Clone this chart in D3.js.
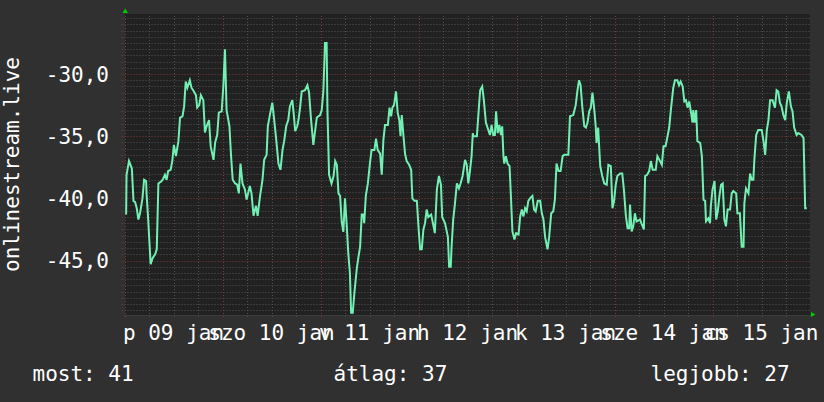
<!DOCTYPE html>
<html><head><meta charset="utf-8">
<script src="https://cdn.jsdelivr.net/npm/d3@7"></script>
<style>
html,body{margin:0;padding:0;background:#303030;}
svg{display:block;}
text{font-family:"DejaVu Sans Mono",monospace;font-size:21px;fill:#ffffff;}
</style></head><body>
<svg id="chart" width="824" height="402"></svg>
<script>
// hours since Fri 09 Jan 00:00 and the value read at that time
const hours = [0.4,0.5,1.1,1.8,2.2,2.6,3.0,3.4,3.8,4.4,4.8,5.3,5.4,5.8,6.4,6.9,7.5,7.9,8.3,9.1,9.5,9.9,10.3,10.7,11.3,11.7,12.1,12.6,13.2,13.6,14.2,14.6,15.0,15.4,16.0,16.4,17.0,17.5,17.8,18.3,18.7,19.3,19.7,20.1,20.7,21.1,21.8,22.2,22.7,23.1,23.8,24.2,24.6,25.0,25.7,26.1,26.5,27.1,27.6,28.0,28.4,28.9,29.5,29.9,30.7,31.1,31.6,32.2,32.6,33.2,33.8,34.2,34.8,35.1,35.6,36.2,36.6,37.1,37.7,38.2,38.7,39.1,39.6,40.1,40.5,41.1,41.5,41.8,42.3,
42.6,43.0,43.4,44.2,44.8,45.2,45.7,46.25,46.7,47.1,47.9,48.3,48.7,49.1,49.5,49.7,50.1,50.7,51.2,51.6,52.0,52.4,52.8,53.2,53.6,54.0,54.4,54.8,55.2,55.5,55.9,56.3,56.9,57.3,57.7,58.1,58.5,58.7,59.1,59.6,60.1,60.5,61.2,61.6,62.0,62.6,63.0,63.4,63.8,64.5,64.9,65.3,65.6,66.0,66.5,66.9,67.3,67.6,67.9,68.3,68.7,69.1,69.7,70.2,70.5,71.0,71.6,72.0,72.4,72.8,73.2,73.6,74.0,74.4,75.1,75.6,76.0,76.5,77.0,77.5,77.8,78.5,79.2,79.5,79.9,80.1,80.5,80.9,81.4,81.9,82.3,82.8,83.4,83.8,84.2,84.6,85.0,85.3,
85.4,86.3,86.7,87.1,87.6,88.0,88.5,89.1,89.5,89.9,90.3,90.7,91.0,91.4,91.8,92.2,92.5,92.8,93.0,93.4,93.8,94.3,94.6,95.0,95.5,95.9,96.5,96.9,97.3,97.7,98.1,98.5,98.9,99.3,99.9,100.3,100.7,101.2,101.8,102.2,102.6,103.0,103.6,104.0,104.5,105.0,105.4,105.8,106.3,106.8,107.3,107.7,108.7,109.1,109.9,110.5,110.9,111.3,111.7,112.1,112.6,113.0,113.4,113.8,114.2,114.6,115.0,115.4,115.6,116.0,116.5,117.0,117.5,118.1,118.5,119.1,119.5,119.9,120.3,120.7,121.4,121.9,122.3,122.8,123.2,123.6,123.8,124.2,124.6,125.0,125.4,
126.25,126.7,127.2,127.5,128.0,128.5,128.9,129.35,130.1,130.5,131.0,131.6,132.0,132.5,132.9,133.4,133.8,134.4,134.8,135.4,135.8,136.2,136.7,137.1,137.5,137.9,138.3,138.7,139.1,139.3,139.6,140.0,140.3,141.0,141.4,141.8,142.2,142.4,143.0,143.4,143.6,144.0,144.5,144.9,145.3,145.7,146.1,146.5,146.9,147.3,147.7,148.3,148.7,149.1,149.8,150.1,150.7,151.15,151.6,151.8,152.2,152.8,153.2,153.6,154.0,154.25,154.7,155.2,156.05,156.5,156.9,157.3,157.7,158.1,158.7,159.3,159.7,160.1,160.5,160.9,161.35,161.8,162.2,162.7,163.2,163.6,164.0,164.6,165.0,165.8,166.3,166.7,167.1];
const values = [-41.3,-38.1,-37.0,-37.6,-40.2,-40.3,-40.8,-41.7,-41.2,-40.0,-38.5,-38.6,-39.6,-41.7,-45.3,-44.8,-44.5,-44.1,-38.8,-38.6,-38.4,-38.1,-38.5,-37.8,-37.7,-37.0,-35.7,-36.6,-35.4,-33.5,-33.4,-32.6,-30.6,-31.1,-30.5,-31.1,-31.4,-31.7,-32.7,-32.5,-31.7,-32.1,-34.7,-34.2,-33.7,-35.8,-36.9,-35.5,-34.9,-33.1,-33.0,-31.0,-28.0,-32.9,-34.2,-36.6,-38.5,-38.8,-38.9,-39.6,-37.2,-38.8,-39.3,-40.1,-39.0,-39.6,-41.4,-40.6,-41.4,-39.8,-38.5,-36.9,-36.5,-34.2,-33.3,-32.3,-33.5,-35.1,-37.2,-37.7,-36.1,-35.4,-34.2,-33.7,-32.6,-32.1,-33.4,-34.6,-34.2,
-33.7,-32.7,-31.4,-31.3,-30.9,-31.5,-33.7,-35.7,-34.5,-33.5,-33.3,-32.9,-31.4,-27.5,-27.5,-32.9,-38.1,-38.8,-38.2,-37.0,-37.3,-39.6,-39.8,-41.9,-42.7,-40.0,-42.0,-44.4,-46.0,-49.2,-49.2,-47.6,-45.6,-44.7,-43.9,-41.3,-41.3,-42.0,-39.8,-38.8,-37.2,-36.1,-36.1,-35.2,-36.1,-36.4,-38.1,-35.3,-34.1,-34.1,-32.7,-33.4,-32.7,-32.5,-31.4,-33.1,-33.7,-35.0,-33.3,-34.9,-36.4,-37.0,-37.3,-37.7,-40.0,-40.2,-40.2,-42.3,-44.1,-44.1,-42.5,-42.0,-40.9,-41.5,-41.3,-42.1,-42.8,-39.3,-38.2,-38.9,-41.5,-42.0,-43.1,-45.5,-45.5,-43.9,-41.7,-40.5,-38.8,-39.2,-38.8,-38.2,-36.9,-37.3,-38.8,-37.8,-36.6,-34.75,
-35.0,-35.0,-33.1,-31.3,-31.0,-32.1,-33.9,-34.5,-34.9,-34.1,-34.9,-34.9,-33.0,-34.75,-34.1,-34.9,-34.2,-36.6,-37.2,-36.6,-37.2,-37.4,-39.6,-42.65,-43.3,-42.8,-42.9,-41.45,-40.9,-41.45,-40.8,-41.05,-40.2,-40.0,-39.8,-40.9,-41.05,-40.2,-40.2,-41.2,-41.7,-43.1,-44.1,-43.1,-41.2,-41.05,-40.1,-37.2,-37.8,-37.8,-36.6,-36.5,-36.5,-33.4,-33.3,-32.5,-31.4,-30.5,-30.9,-32.6,-34.2,-34.3,-33.9,-33.0,-32.7,-31.5,-32.7,-34.2,-35.55,-34.3,-37.4,-38.2,-38.8,-38.9,-37.3,-37.4,-40.8,-40.2,-38.9,-38.2,-38.0,-38.0,-39.3,-41.45,-42.4,-42.4,-40.5,-42.65,-42.25,-41.2,-41.85,
-41.7,-42.1,-42.5,-38.2,-38.1,-37.8,-37.0,-37.7,-37.7,-36.6,-36.9,-37.3,-35.8,-35.8,-35.15,-34.3,-32.9,-31.1,-30.5,-30.5,-30.9,-30.6,-31.0,-32.2,-32.1,-32.7,-32.2,-33.0,-33.9,-32.9,-33.9,-32.9,-35.4,-35.55,-36.6,-40.1,-40.2,-41.85,-41.6,-42.0,-40.6,-39.3,-38.6,-41.7,-41.05,-39.8,-38.9,-38.8,-41.7,-42.25,-40.9,-40.9,-39.6,-39.4,-39.6,-41.2,-41.2,-43.9,-43.9,-40.4,-39.2,-39.6,-38.0,-38.5,-38.5,-36.9,-34.9,-34.5,-34.5,-35.4,-36.5,-34.5,-33.7,-32.1,-32.1,-32.7,-31.3,-31.4,-32.3,-32.6,-33.3,-33.7,-32.3,-31.4,-32.6,-33.0,-34.3,-34.9,-34.75,-34.9,-35.15,-40.8,-40.8];
const dayLabels = ["p 09 jan","szo 10 jan","v 11 jan","h 12 jan","k 13 jan","sze 14 jan","cs 15 jan"];
const yTickValues = [-45,-40,-35,-30];
const yTickLabels = ["-45,0","-40,0","-35,0","-30,0"];
const legendLabels = ["most: 41","átlag: 37","legjobb: 27"];
const yTitle = "onlinestream.live";
const startDate = new Date(2026,0,9,0,0);
const endDate = new Date(2026,0,16,0,0);
const yDomain = [-49.3,-25.25];

const svg = d3.select("#chart");
const P = {left:123.5, right:810, top:14, bottom:315};
const x = d3.scaleTime().domain([startDate,endDate]).range([124.5,810.5]);
const y = d3.scaleLinear().domain(yDomain).range([314,15]);

svg.append("rect").attr("width",824).attr("height",402).attr("fill","#303030");
svg.append("rect").attr("x",P.left).attr("y",P.top).attr("width",P.right-P.left).attr("height",P.bottom-P.top).attr("fill","#212121");

const crisp = v => Math.round(v)+0.5;
// horizontal grid
const hMinor = d3.range(-49,-25.2,0.5).filter(v=>v%5!==0);
const g = svg.append("g");
g.selectAll(".hmin").data(hMinor).join("line")
  .attr("x1",P.left-2).attr("x2",P.right).attr("y1",d=>crisp(y(d))).attr("y2",d=>crisp(y(d)))
  .attr("stroke","#525252").attr("stroke-dasharray","1,2");
g.selectAll(".hmaj").data(yTickValues).join("line")
  .attr("x1",P.left-2).attr("x2",P.right).attr("y1",d=>crisp(y(d))).attr("y2",d=>crisp(y(d)))
  .attr("stroke","#803a3a").attr("stroke-dasharray","1,2");
// vertical grid
const vTimes = d3.timeHour.every(6).range(startDate,endDate);
g.selectAll(".v").data(vTimes).join("line")
  .attr("x1",d=>crisp(x(d))).attr("x2",d=>crisp(x(d))).attr("y1",P.top+2).attr("y2",P.bottom+2)
  .attr("stroke",d=>d.getHours()===0?"#803a3a":"#525252").attr("stroke-dasharray","1,2");

// axes
svg.append("line").attr("x1",P.left).attr("x2",P.right+2).attr("y1",P.bottom+0.5).attr("y2",P.bottom+0.5).attr("stroke","#3c3c3c");
svg.append("line").attr("x1",P.left+0.5).attr("x2",P.left+0.5).attr("y1",P.top).attr("y2",P.bottom).attr("stroke","#3c3c3c");

// data line
const pts = hours.map((h,i)=>({t:d3.timeMinute.offset(startDate,Math.round(h*60)),v:values[i]}));
const line = d3.line().x(d=>x(d.t)).y(d=>y(d.v));
svg.append("path").datum(pts).attr("d",line).attr("fill","none")
  .attr("stroke","#72f0b4").attr("stroke-width",2).attr("stroke-linejoin","miter");

// arrows
svg.append("path").attr("d",d3.line()([[122.5,13],[125.2,8.5],[128,13]])+"Z").attr("fill","#00cc00");
svg.append("path").attr("d",d3.line()([[811,312],[815.5,314.5],[811,317]])+"Z").attr("fill","#00cc00");

// y tick labels
svg.selectAll(".yl").data(yTickValues).join("text")
  .attr("x",109).attr("y",d=>y(d)+7.5).attr("text-anchor","end").text((d,i)=>yTickLabels[i]);
// x labels centred at noon of each day
const noons = dayLabels.map((l,i)=>d3.timeHour.offset(startDate,24*i+12));
svg.selectAll(".xl").data(dayLabels).join("text")
  .attr("x",(d,i)=>x(noons[i])).attr("y",340).attr("text-anchor","middle").text(d=>d);
// y title
svg.append("text").attr("transform",`translate(18.5,${(P.top+P.bottom)/2}) rotate(-90)`)
  .attr("text-anchor","middle").text(yTitle);
// legend
const legendX = [32.5,333.5,650.5];
svg.selectAll(".lg").data(legendLabels).join("text")
  .attr("x",(d,i)=>legendX[i]).attr("y",381).text(d=>d);
</script></body></html>
